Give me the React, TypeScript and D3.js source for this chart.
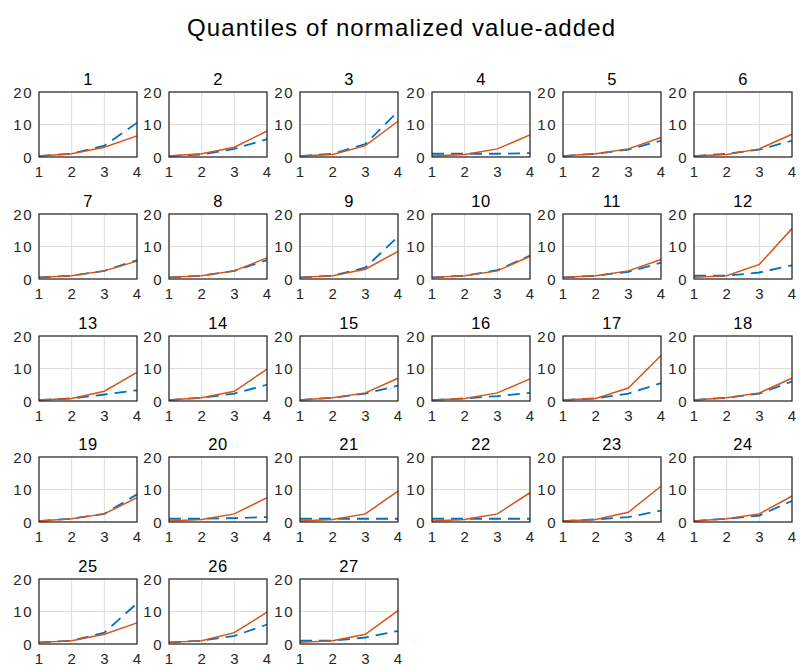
import React from "react";
import * as d3 from "d3";

const panelTitles = ["1","2","3","4","5","6","7","8","9","10","11","12","13","14","15","16","17","18","19","20","21","22","23","24","25","26","27"];
const xTicks = [1, 2, 3, 4];
const yTicks = [0, 10, 20];

const orangeSeries: number[][] = [
  [0.3, 1, 3, 6.5],
  [0.3, 1, 3, 8],
  [0.3, 0.8, 3.5, 11],
  [0.3, 0.8, 2.5, 6.8],
  [0.3, 1, 2.5, 6],
  [0.3, 0.8, 2.5, 7],
  [0.5, 1, 2.5, 5.5],
  [0.5, 1, 2.5, 6.5],
  [0.5, 1, 3, 8.5],
  [0.5, 1, 2.5, 7],
  [0.5, 1, 2.5, 6],
  [0.5, 1, 4.5, 15.5],
  [0.3, 0.8, 3, 8.8],
  [0.3, 1, 3, 9.8],
  [0.3, 1, 2.5, 7],
  [0.3, 0.8, 2.5, 6.8],
  [0.3, 0.8, 4, 14],
  [0.3, 1, 2.5, 7],
  [0.3, 1, 2.5, 7.5],
  [0.3, 0.8, 2.5, 7.5],
  [0.3, 0.8, 2.5, 9.5],
  [0.3, 0.8, 2.5, 9],
  [0.3, 0.8, 3, 11],
  [0.3, 1, 2.5, 8],
  [0.5, 1, 3, 6.5],
  [0.5, 1, 3.5, 9.8],
  [0.5, 1, 3, 10.3],
];

const blueSeries: number[][] = [
  [0.3, 1, 3.5, 10.5],
  [0.3, 0.8, 2.5, 5.5],
  [0.3, 1, 4, 14],
  [1, 1, 1, 1.2],
  [0.3, 1, 2.3, 5],
  [0.3, 1, 2.3, 5],
  [0.5, 1, 2.5, 5.8],
  [0.5, 1, 2.5, 5.8],
  [0.5, 1, 3.5, 13],
  [0.5, 1, 2.7, 7.2],
  [0.5, 1, 2.2, 5],
  [1, 1, 2, 4.2],
  [0.3, 0.8, 2, 3.3],
  [0.3, 1, 2.3, 5],
  [0.3, 1, 2.3, 4.7],
  [0.3, 0.8, 1.5, 2.5],
  [0.3, 0.8, 2.3, 5.5],
  [0.3, 1, 2.3, 6],
  [0.3, 1, 2.5, 8.5],
  [1, 1, 1.2, 1.5],
  [1, 1, 1, 1],
  [1, 1, 1, 1],
  [0.3, 0.8, 1.5, 3.5],
  [0.3, 1, 2, 6.5],
  [0.5, 1, 3.5, 12.5],
  [0.5, 1, 2.5, 6],
  [1, 1, 2, 4],
];

const W = 800;
const H = 669;
const colLeft = [39, 169, 300, 432, 563, 694];
const rowTop = [92, 214, 336, 457, 579];
const pw = 98;
const ph = 65;
const FONT = "Helvetica, Arial, 'Liberation Sans', sans-serif";
const ORANGE = "#D95319";
const BLUE = "#0072BD";
const AX = "#262626";

function Panel({ idx }: { idx: number }) {
  const col = idx % 6;
  const row = Math.floor(idx / 6);
  const x0 = colLeft[col];
  const y0 = rowTop[row];
  const x = d3.scaleLinear().domain([1, 4]).range([0, pw]);
  const y = d3.scaleLinear().domain([0, 20]).range([ph, 0]);
  const line = d3.line<number>().x((_, i) => x(xTicks[i])).y((d) => y(d));
  return (
    <g transform={`translate(${x0},${y0})`}>
      <rect x={0} y={0} width={pw} height={ph} fill="#fff" />
      {xTicks.map((t) => (
        <line key={"gx" + t} x1={x(t)} x2={x(t)} y1={0} y2={ph} stroke="#dcdcdc" strokeWidth={1} />
      ))}
      {yTicks.map((t) => (
        <line key={"gy" + t} x1={0} x2={pw} y1={y(t)} y2={y(t)} stroke="#dcdcdc" strokeWidth={1} />
      ))}
      <path d={line(blueSeries[idx]) || ""} fill="none" stroke={BLUE} strokeWidth={1.8} strokeDasharray="12,7" />
      <path d={line(orangeSeries[idx]) || ""} fill="none" stroke={ORANGE} strokeWidth={1.5} />
      <rect x={0} y={0} width={pw} height={ph} fill="none" stroke={AX} strokeWidth={1.2} />
      {xTicks.map((t) => (
        <text key={"xt" + t} x={x(t)} y={ph + 20} textAnchor="middle" fontSize={15} fill={AX} fontFamily={FONT}>
          {t}
        </text>
      ))}
      {yTicks.map((t) => (
        <text key={"yt" + t} x={-6} y={y(t) + 5.5} textAnchor="end" fontSize={15} letterSpacing={1.5} fill={AX} fontFamily={FONT}>
          {t}
        </text>
      ))}
      <text x={pw / 2} y={-7} textAnchor="middle" fontSize={16.5} letterSpacing={0.5} fill="#000" fontFamily={FONT}>
        {panelTitles[idx]}
      </text>
    </g>
  );
}

export default function App() {
  return (
    <svg width={W} height={H} style={{ position: "absolute", left: 0, top: 0, background: "#fff" }}>
      <rect x={0} y={0} width={W} height={H} fill="#fff" />
      <text x={187} y={36} fontSize={24} textLength={428} lengthAdjust="spacing" fill="#000" fontFamily={FONT}>
        Quantiles of normalized value-added
      </text>
      {panelTitles.map((_, i) => (
        <Panel key={i} idx={i} />
      ))}
    </svg>
  );
}
